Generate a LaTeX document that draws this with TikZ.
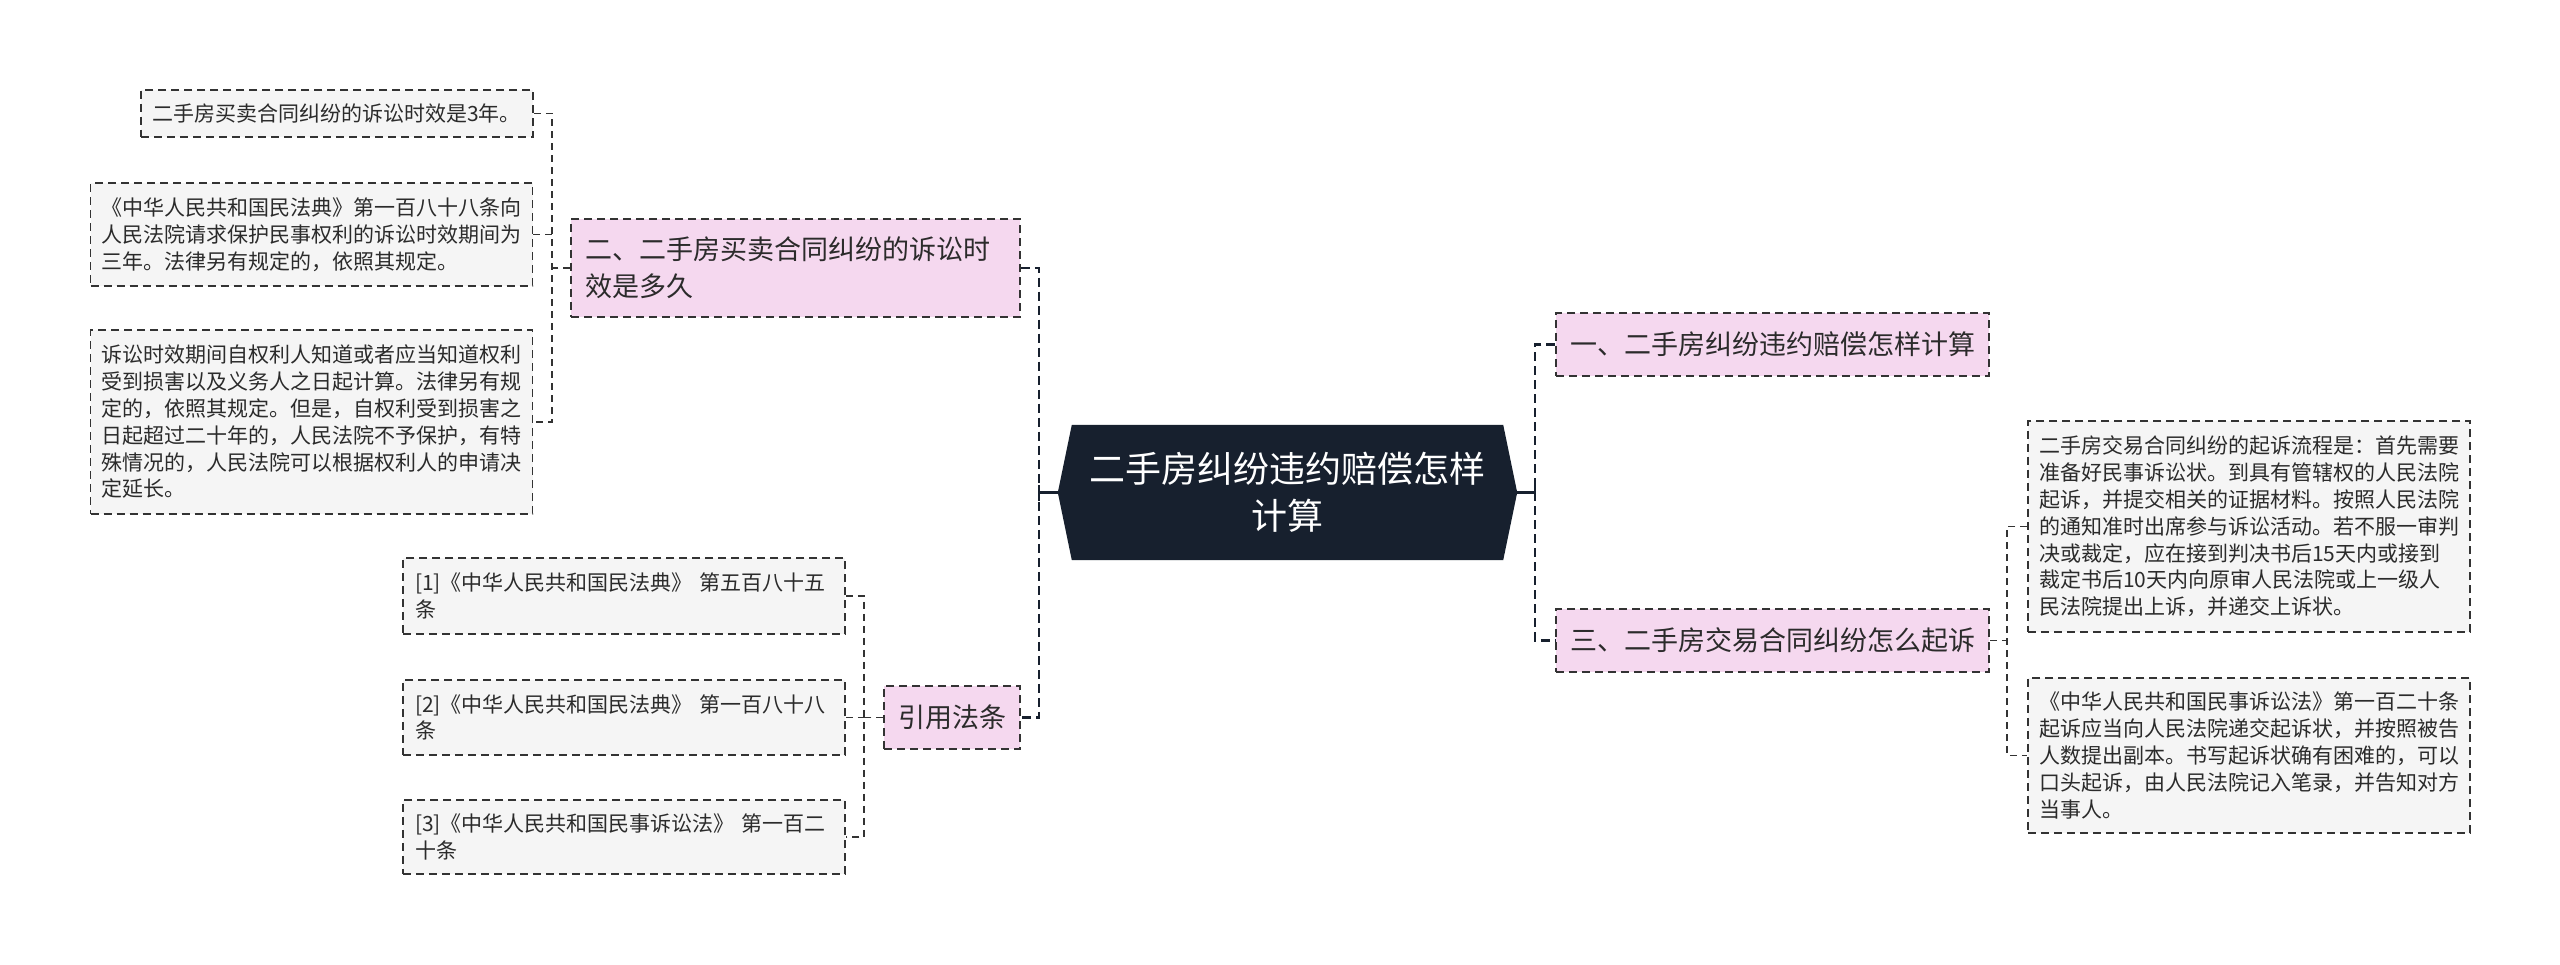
\documentclass[tikz,border=0pt]{standalone}
\usepackage{fontspec}
\setmainfont{Noto Sans CJK SC}
\usetikzlibrary{backgrounds}
\definecolor{navy}{HTML}{17202E}
\definecolor{pinkfill}{HTML}{F5D8EF}
\definecolor{leaffill}{HTML}{F5F5F5}
\definecolor{linec}{HTML}{333333}
\definecolor{txt}{HTML}{2B2B2B}
\tikzset{
  leafbox/.style={draw=linec, fill=leaffill, line width=1.5pt, dash pattern=on 8pt off 5pt,
    inner xsep=11pt, inner ysep=0pt, align=left, text=txt,
    font=\fontsize{21pt}{26.8pt}\selectfont},
  branchbox/.style={draw=linec, fill=pinkfill, line width=1.5pt, dash pattern=on 8pt off 5pt,
    inner xsep=14pt, inner ysep=0pt, align=left, text=txt,
    font=\fontsize{27pt}{36.7pt}\selectfont},
  centerbox/.style={inner sep=0pt, align=center, text=white,
    font=\fontsize{36pt}{47pt}\selectfont},
  mainconn/.style={draw=navy, line width=2.4pt, dash pattern=on 9pt off 5pt},
  leafconn/.style={draw=linec, line width=1.5pt, dash pattern=on 7pt off 5pt},
  stubconn/.style={draw=navy, line width=2.4pt},
}
\begin{document}
\begin{tikzpicture}[x=1pt, y=-1pt]
\useasboundingbox (0,0) rectangle (2560,965);

% center
\node[centerbox, minimum width=459pt, minimum height=135pt] (c) at (1287.5,492.5)
  {二手房纠纷违约赔偿怎样\\计算};
\begin{scope}[on background layer]
\fill[white] (0,0) rectangle (2560,965);
\fill[navy] ([xshift=14pt]c.north west) -- ([xshift=-14pt]c.north east) -- (c.east)
  -- ([xshift=-14pt]c.south east) -- ([xshift=14pt]c.south west) -- (c.west) -- cycle;
\end{scope}

% left branch 2
\node[branchbox, text width=421pt, minimum height=98pt] (b2) at (795.5,268)
  {二、二手房买卖合同纠纷的诉讼时\\效是多久};
\node[leafbox, text width=370pt, minimum height=47pt] (l1) at (337,113.5)
  {二手房买卖合同纠纷的诉讼时效是3年。};
\node[leafbox, text width=420pt, minimum height=103pt] (l2) at (311.5,234.5)
  {《中华人民共和国民法典》第一百八十八条向\\人民法院请求保护民事权利的诉讼时效期间为\\三年。法律另有规定的，依照其规定。};
\node[leafbox, text width=420pt, minimum height=184pt] (l3) at (311.5,422)
  {诉讼时效期间自权利人知道或者应当知道权利\\受到损害以及义务人之日起计算。法律另有规\\定的，依照其规定。但是，自权利受到损害之\\日起超过二十年的，人民法院不予保护，有特\\殊情况的，人民法院可以根据权利人的申请决\\定延长。};

% citations
\node[branchbox, text width=108pt, minimum height=63pt, align=center] (cite) at (952,717.5)
  {引用法条};
\node[leafbox, inner xsep=12pt, text width=418pt, minimum height=76pt] (ref1) at (624,596)
  {[1]《中华人民共和国民法典》 第五百八十五\\条};
\node[leafbox, inner xsep=12pt, text width=418pt, minimum height=75pt] (ref2) at (624,717.5)
  {[2]《中华人民共和国民法典》 第一百八十八\\条};
\node[leafbox, inner xsep=12pt, text width=418pt, minimum height=74pt] (ref3) at (624,837)
  {[3]《中华人民共和国民事诉讼法》 第一百二\\十条};

% right
\node[branchbox, text width=405pt, minimum height=63pt] (b1) at (1772.5,344.5)
  {一、二手房纠纷违约赔偿怎样计算};
\node[branchbox, text width=405pt, minimum height=63pt] (b3) at (1772.5,640.5)
  {三、二手房交易合同纠纷怎么起诉};
\node[leafbox, text width=420pt, minimum height=211pt] (r1) at (2249,526.5)
  {二手房交易合同纠纷的起诉流程是：首先需要\\准备好民事诉讼状。到具有管辖权的人民法院\\起诉，并提交相关的证据材料。按照人民法院\\的通知准时出席参与诉讼活动。若不服一审判\\决或裁定，应在接到判决书后15天内或接到\\裁定书后10天内向原审人民法院或上一级人\\民法院提出上诉，并递交上诉状。};
\node[leafbox, text width=420pt, minimum height=155pt] (r2) at (2249,755.5)
  {《中华人民共和国民事诉讼法》第一百二十条\\起诉应当向人民法院递交起诉状，并按照被告\\人数提出副本。书写起诉状确有困难的，可以\\口头起诉，由人民法院记入笔录，并告知对方\\当事人。};

% trunk x positions
\coordinate (lx) at (552,0);
\coordinate (mlx) at (1039,0);
\coordinate (mrx) at (1535,0);
\coordinate (rx) at (2007,0);
\coordinate (fx) at (864,0);

% main left
\draw[mainconn] (b2.east) -- (b2.east -| mlx) -- (cite.east -| mlx) -- (cite.east);
\draw[stubconn] (c.west) -- (c.west -| mlx);
\draw[stubconn] ([yshift=-8pt]c.west -| mlx) -- ([yshift=8pt]c.west -| mlx);
% main right
\draw[mainconn] (b1.west) -- (b1.west -| mrx) -- (b3.west -| mrx) -- (b3.west);
\draw[stubconn] (c.east) -- (c.east -| mrx);
\draw[stubconn] ([yshift=-8pt]c.east -| mrx) -- ([yshift=8pt]c.east -| mrx);

% left leaves
\draw[leafconn] (l1.east) -- (l1.east -| lx) -- (l3.east -| lx) -- (l3.east);
\draw[leafconn] (l2.east) -- (l2.east -| lx);
\draw[leafconn] (b2.west) -- (b2.west -| lx);

% refs
\draw[leafconn] (ref1.east) -- (ref1.east -| fx) -- (ref3.east -| fx) -- (ref3.east);
\draw[leafconn] (ref2.east) -- (ref2.east -| fx);
\draw[leafconn] (cite.west) -- (cite.west -| fx);

% right leaves
\draw[leafconn] (r1.west) -- (r1.west -| rx) -- (r2.west -| rx) -- (r2.west);
\draw[leafconn] (b3.east) -- (b3.east -| rx);
\end{tikzpicture}
\end{document}
